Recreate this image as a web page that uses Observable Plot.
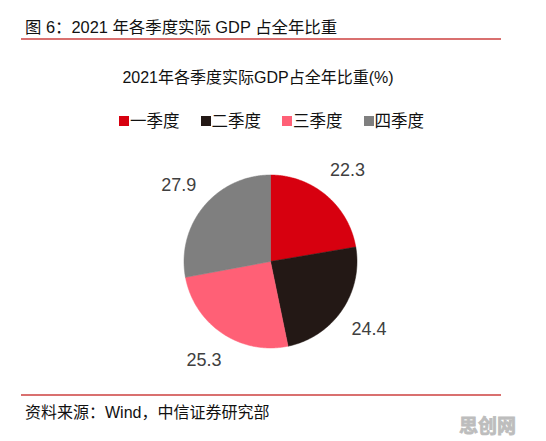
<!DOCTYPE html>
<html><head><meta charset="utf-8">
<script src="https://cdn.jsdelivr.net/npm/d3@7"></script>
<script src="https://cdn.jsdelivr.net/npm/@observablehq/plot@0.6"></script>
<style>
body{margin:0;background:#fff;width:546px;height:441px;position:relative;overflow:hidden;font-family:"Liberation Sans","Noto Sans CJK SC",sans-serif;color:#111;}
.abs{position:absolute;white-space:nowrap;}
#hdr{left:25px;top:17px;font-size:16.4px;line-height:20px;}
#line1{left:21px;top:38px;width:480px;height:2px;background:#d9706f;}
#title{left:0;width:516px;top:68px;font-size:16px;line-height:20px;text-align:center;}
#legend{left:119px;top:111px;font-size:16.5px;line-height:20px;display:flex;}
#legend .item{display:flex;align-items:center;margin-right:21px;}
#legend .sw{width:10px;height:10px;margin-right:1px;}
#chart{left:0;top:150px;}
#line2{left:21px;top:394px;width:480px;height:2px;background:#d9706f;}
#src{left:25px;top:403px;font-size:16px;line-height:20px;}
#wm{left:459px;top:413px;font-size:19px;line-height:24px;color:#bdbdbd;font-weight:bold;-webkit-text-stroke:0.8px #bdbdbd;font-family:"Noto Sans CJK SC",sans-serif;}
</style></head>
<body>
<div id="hdr" class="abs"></div>
<div id="line1" class="abs"></div>
<div id="title" class="abs"></div>
<div id="legend" class="abs"></div>
<div id="chart" class="abs"></div>
<div id="line2" class="abs"></div>
<div id="src" class="abs"></div>
<div id="wm" class="abs"></div>
<script>
const headerText = "图 6：2021 年各季度实际 GDP 占全年比重";
const chartTitle = "2021年各季度实际GDP占全年比重(%)";
const sourceText = "资料来源：Wind，中信证券研究部";
const watermark = "思创网";
const quarters = ["一季度", "二季度", "三季度", "四季度"];
const shares = [22.3, 24.4, 25.3, 27.9];
const colors = ["#d7000f", "#231815", "#ff6076", "#7f7f7f"];

document.getElementById("hdr").textContent = headerText;
document.getElementById("title").textContent = chartTitle;
document.getElementById("src").textContent = sourceText;
document.getElementById("wm").textContent = watermark;

const legend = document.getElementById("legend");
quarters.forEach((q, i) => {
  const it = document.createElement("div"); it.className = "item";
  const sw = document.createElement("span"); sw.className = "sw"; sw.style.background = colors[i];
  const tx = document.createElement("span"); tx.textContent = q;
  it.appendChild(sw); it.appendChild(tx); legend.appendChild(it);
});

// Slices from data via d3.pie (0 = 12 o'clock, clockwise)
const arcs = d3.pie().sort(null)(shares).map((a, i) => ({...a, q: quarters[i]}));
const poly = [];
for (const a of arcs) {
  poly.push({q: a.q, x: 0, y: 0});
  const n = Math.max(2, Math.ceil((a.endAngle - a.startAngle) / 0.01));
  for (let k = 0; k <= n; k++) {
    const t = a.startAngle + (a.endAngle - a.startAngle) * k / n;
    poly.push({q: a.q, x: Math.sin(t), y: Math.cos(t)});
  }
  poly.push({q: a.q, x: 0, y: 0});
}
const labelR = 1.38;
const labels = arcs.map(a => {
  const m = (a.startAngle + a.endAngle) / 2;
  return {x: labelR * Math.sin(m), y: labelR * Math.cos(m), text: a.value.toFixed(1)};
});

const cx = 270, cy = 111, r = 86.5;
const chart = Plot.plot({
  width: 546, height: 230, margin: 0,
  style: {background: "transparent", fontFamily: "Liberation Sans, sans-serif"},
  x: {domain: [-1, 1], range: [cx - r, cx + r], axis: null},
  y: {domain: [-1, 1], range: [cy + r, cy - r], axis: null},
  color: {domain: quarters, range: colors},
  marks: [
    Plot.line(poly, {x: "x", y: "y", z: "q", fill: "q", stroke: "q", strokeWidth: 0.5}),
    Plot.text(labels, {x: "x", y: "y", text: "text", fill: "#404040", fontSize: 18})
  ]
});
document.getElementById("chart").appendChild(chart);
</script>
</body></html>
